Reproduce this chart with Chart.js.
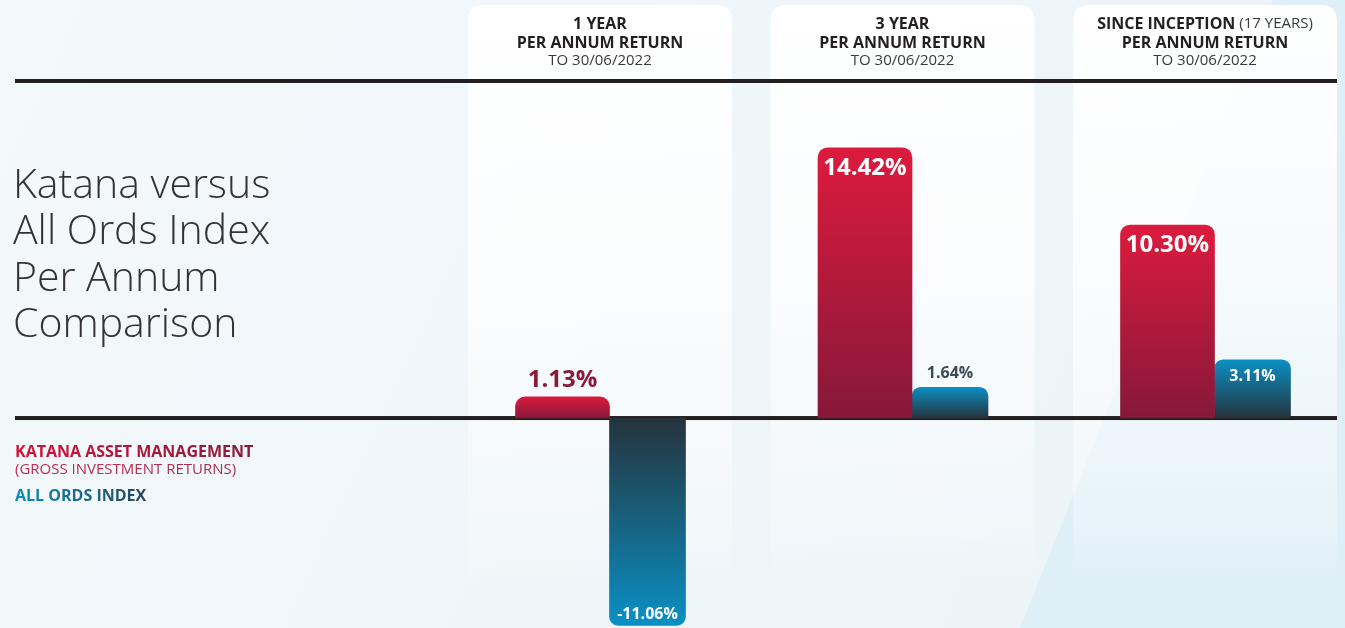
<!DOCTYPE html>
<html>
<head>
<meta charset="utf-8">
<script src="https://cdn.jsdelivr.net/npm/chart.js@4/dist/chart.umd.min.js"></script>
<style>
html,body{margin:0;padding:0;background:#eef5f9;overflow:hidden;}
canvas{display:block;}
</style>
</head>
<body>
<canvas id="c" width="1345" height="628"></canvas>
<script>
// ---- data ----
const categories = ['1 YEAR', '3 YEAR', 'SINCE INCEPTION'];
const katanaValues = [1.13, 14.42, 10.30];
const allOrdsValues = [-11.06, 1.64, 3.11];
const headerExtra = ['', '', ' (17 YEARS)'];
const headerLine2 = 'PER ANNUM RETURN';
const headerLine3 = 'TO 30/06/2022';
const titleLines = ['Katana versus', 'All Ords Index', 'Per Annum', 'Comparison'];
const legendKatana = 'KATANA ASSET MANAGEMENT';
const legendKatanaSub = '(GROSS INVESTMENT RETURNS)';
const legendAllOrds = 'ALL ORDS INDEX';

const FONT = '"Open Sans", "Noto Sans", sans-serif';

function barGradient(ctx, bright, dark) {
  const chart = ctx.chart;
  if (!chart.chartArea || ctx.type !== 'data') return dark;
  const y = chart.scales.y;
  const v = ctx.raw;
  const yv = y.getPixelForValue(v), y0 = y.getPixelForValue(0);
  if (Math.abs(yv - y0) < 1) return dark;
  const g = chart.ctx.createLinearGradient(0, yv, 0, y0);
  g.addColorStop(0, bright);
  g.addColorStop(1, dark);
  return g;
}

const backgroundPlugin = {
  id: 'bg',
  beforeDraw(chart) {
    const c = chart.ctx, W = chart.width, H = chart.height;
    c.save();
    const g = c.createLinearGradient(0, 0, W, H);
    g.addColorStop(0, '#f4f9fb');
    g.addColorStop(1, '#eaf3f8');
    c.fillStyle = g;
    c.fillRect(0, 0, W, H);
    // diagonal light band on the right
    c.fillStyle = 'rgba(214,235,245,0.55)';
    c.beginPath();
    c.moveTo(1273, 0); c.lineTo(W, 0); c.lineTo(W, H); c.lineTo(1020, H); c.closePath();
    c.fill();
    // header panels
    const xs = chart.scales.x;
    categories.forEach((cat, i) => {
      const cx = xs.getPixelForValue(i) - 9.5;
      const left = cx - 132, w = 264, top = 5, bottom = 585, r = 16;
      const pg = c.createLinearGradient(0, top, 0, bottom);
      pg.addColorStop(0, 'rgba(255,255,255,0.97)');
      pg.addColorStop(0.45, 'rgba(255,255,255,0.75)');
      pg.addColorStop(0.9, 'rgba(255,255,255,0.25)');
      pg.addColorStop(1, 'rgba(255,255,255,0)');
      c.fillStyle = pg;
      c.beginPath();
      c.moveTo(left + r, top);
      c.lineTo(left + w - r, top);
      c.quadraticCurveTo(left + w, top, left + w, top + r);
      c.lineTo(left + w, bottom);
      c.lineTo(left, bottom);
      c.lineTo(left, top + r);
      c.quadraticCurveTo(left, top, left + r, top);
      c.closePath();
      c.fill();
      // header text
      c.fillStyle = '#231f20';
      c.textBaseline = 'middle';
      c.textAlign = 'left';
      const boldF = 'bold 16px ' + FONT, regF = '15px ' + FONT;
      c.font = boldF; const w1 = c.measureText(cat).width;
      c.font = regF; const w2 = c.measureText(headerExtra[i]).width;
      let sx = cx - (w1 + w2) / 2;
      c.font = boldF; c.fillText(cat, sx, 24);
      c.font = regF; c.fillStyle = '#3a3a3a'; c.fillText(headerExtra[i], sx + w1, 24);
      c.textAlign = 'center';
      c.fillStyle = '#231f20';
      c.font = boldF; c.fillText(headerLine2, cx, 43);
      c.font = regF; c.fillStyle = '#3a3a3a'; c.fillText(headerLine3, cx, 61);
    });
    // title
    c.fillStyle = '#333333';
    c.textAlign = 'left';
    c.textBaseline = 'alphabetic';
    c.font = '300 41px ' + FONT;
    titleLines.forEach((t, i) => c.fillText(t, 13, 198 + i * 46.3));
    // legend
    c.font = 'bold 16px ' + FONT;
    let lg = c.createLinearGradient(15, 0, 256, 0);
    lg.addColorStop(0, '#d3143a'); lg.addColorStop(1, '#8b1a3a');
    c.fillStyle = lg;
    c.fillText(legendKatana, 15, 457);
    c.font = '15px ' + FONT;
    lg = c.createLinearGradient(15, 0, 240, 0);
    lg.addColorStop(0, '#c8284e'); lg.addColorStop(1, '#a2304f');
    c.fillStyle = lg;
    c.fillText(legendKatanaSub, 15, 474);
    c.font = 'bold 16px ' + FONT;
    lg = c.createLinearGradient(15, 0, 147, 0);
    lg.addColorStop(0, '#0b8dc0'); lg.addColorStop(1, '#2b4656');
    c.fillStyle = lg;
    c.fillText(legendAllOrds, 15, 501);
    // top rule
    c.fillStyle = '#231f20';
    c.fillRect(15, 79, 1322, 4);
    c.restore();
  },
  beforeDatasetsDraw(chart) {
    const c = chart.ctx;
    const y0 = chart.scales.y.getPixelForValue(0);
    c.save();
    c.fillStyle = '#231f20';
    c.fillRect(15, y0 - 2, 1322, 4);
    c.restore();
  },
  afterDatasetsDraw(chart) {
    const c = chart.ctx;
    c.save();
    c.textAlign = 'center';
    c.textBaseline = 'middle';
    chart.data.datasets.forEach((ds, di) => {
      const meta = chart.getDatasetMeta(di);
      meta.data.forEach((bar, i) => {
        const v = ds.data[i];
        const txt = v.toFixed(2) + '%';
        const len = Math.abs(bar.base - bar.y);
        const up = v >= 0;
        const inside = len > 45;
        const big = di === 0;
        c.font = 'bold ' + (big ? 24 : 16) + 'px ' + FONT;
        let y;
        if (inside) {
          c.fillStyle = '#ffffff';
          y = up ? bar.y + (big ? 20 : 17) : bar.y - 11;
        } else {
          c.fillStyle = big ? '#8b1a3a' : '#3b4a55';
          y = up ? bar.y - (big ? 17 : 14) : bar.y + 14;
        }
        c.fillText(txt, bar.x, y);
      });
    });
    c.restore();
  }
};

new Chart(document.getElementById('c'), {
  type: 'bar',
  data: {
    labels: categories,
    datasets: [
      {
        label: legendKatana,
        data: katanaValues,
        barThickness: 94,
        borderRadius: 10,
        borderSkipped: 'start',
        clip: false,
        backgroundColor: (ctx) => barGradient(ctx, '#dc1b3d', '#86183a')
      },
      {
        label: legendAllOrds,
        data: allOrdsValues,
        barThickness: 76,
        borderRadius: 9,
        borderSkipped: 'start',
        clip: false,
        backgroundColor: (ctx) => barGradient(ctx, '#0a90c4', '#25333c')
      }
    ]
  },
  plugins: [backgroundPlugin],
  options: {
    responsive: false,
    animation: false,
    events: [],
    layout: { padding: { left: 609.5, right: 130.5, top: 0, bottom: 0 } },
    plugins: { legend: { display: false }, tooltip: { enabled: false } },
    scales: {
      x: { type: 'category', offset: false, display: false },
      y: { display: false, min: -11.2, max: 22.3 }
    }
  }
});
</script>
</body>
</html>
